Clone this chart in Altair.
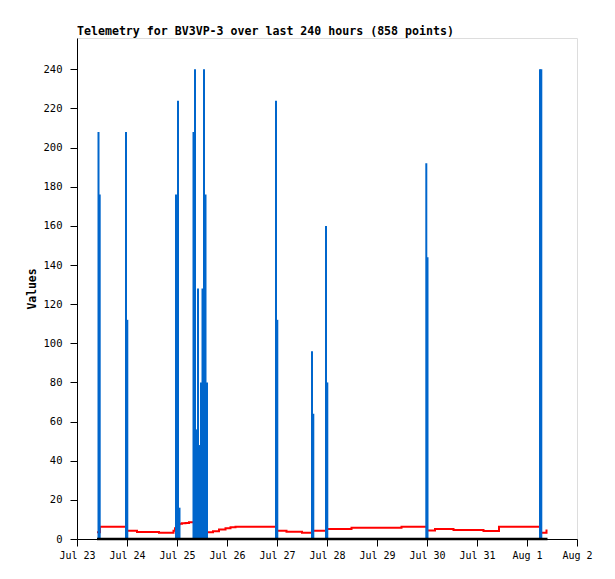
import altair as alt
import pandas as pd
from datetime import datetime, timedelta

# ---- data (times are day offsets from Jul 23 00:00) ----
blue_days = [0.43, 0.454, 0.98, 1.006, 1.98, 2.02, 2.05, 2.33, 2.36, 2.39, 2.42,
             2.45, 2.48, 2.51, 2.54, 2.57, 2.60, 3.98, 4.006, 4.70, 4.726, 4.98,
             5.006, 6.986, 7.01, 9.26, 9.286]
blue_vals = [208, 176, 208, 112, 176, 224, 16, 208, 240, 56, 128,
             48, 80, 128, 240, 176, 80, 224, 112, 96, 64, 160,
             80, 192, 144, 240, 240]

red_days = [0.40, 0.46, 1.00, 1.20, 1.64, 1.90, 1.93, 1.96, 1.98, 2.00, 2.05,
            2.10, 2.17, 2.24, 2.58, 2.72, 2.84, 2.97, 3.07, 3.17, 4.00, 4.19,
            4.50, 4.72, 4.99, 5.49, 6.49, 7.00, 7.16, 7.53, 8.13, 8.44, 9.28,
            9.39, 9.41]
red_vals = [3.4, 6.2, 4.2, 3.6, 3.2, 3.2, 4.2, 5.5, 6.5, 7.5, 7.8,
            8.0, 8.2, 8.5, 3.4, 3.9, 4.8, 5.5, 6.0, 6.3, 4.2, 3.7,
            3.2, 4.2, 5.1, 5.8, 6.3, 4.4, 5.1, 4.6, 4.1, 6.3, 3.2,
            4.4, 4.4]

black_days = [0.40, 9.41]
black_vals = [0, 0]

y_ticks = list(range(0, 241, 20))
title_text = "Telemetry for BV3VP-3 over last 240 hours (858 points)"

base = datetime(2023, 7, 23)


def ts(d):
    return (base + timedelta(days=d)).strftime("%Y-%m-%dT%H:%M:%S")


blue_df = pd.DataFrame({"t": [ts(d) for d in blue_days], "v": blue_vals})
red_df = pd.DataFrame({"t": [ts(d) for d in red_days], "v": red_vals})
black_df = pd.DataFrame({"t": [ts(d) for d in black_days], "v": black_vals})

x_ticks = [alt.DateTime(year=(base + timedelta(days=i)).year,
                        month=(base + timedelta(days=i)).month,
                        date=(base + timedelta(days=i)).day) for i in range(11)]

mono = "DejaVu Sans Mono"

x_enc = alt.X(
    "t:T",
    scale=alt.Scale(domain=[alt.DateTime(year=2023, month=7, date=23),
                            alt.DateTime(year=2023, month=8, date=2)]),
    axis=alt.Axis(values=x_ticks, format="%b %-d", title=None, grid=False,
                  labelFont=mono, labelFontSize=10, labelColor="black",
                  tickColor="black", domainColor="black", tickSize=7,
                  labelPadding=4, labelFlush=False, labelOverlap=False),
)
y_scale = alt.Scale(domain=[0, 256], nice=False)
y_axis = alt.Axis(values=y_ticks, title="Values", grid=False,
                  labelFont=mono, labelFontSize=10.5, labelColor="black",
                  tickColor="black", domainColor="black", tickSize=7,
                  labelPadding=8, titleFont=mono, titleFontSize=11.4,
                  titleFontWeight="bold", titleColor="black", titlePadding=6)

red = alt.Chart(red_df).mark_line(color="#ff0000", strokeWidth=2,
                                  interpolate="step-after").encode(
    x=x_enc, y=alt.Y("v:Q", scale=y_scale, axis=y_axis))

blue = alt.Chart(blue_df).mark_rule(color="#0066cc", strokeWidth=2).encode(
    x=x_enc, y=alt.Y("v:Q", scale=y_scale, axis=y_axis), y2=alt.datum(0))

black = alt.Chart(black_df).mark_line(color="black", strokeWidth=2.5).encode(
    x=x_enc, y=alt.Y("v:Q", scale=y_scale, axis=y_axis))

chart = alt.layer(red, blue, black).properties(
    width=500, height=501,
    title=alt.TitleParams(title_text, anchor="start", frame="group",
                          font=mono, fontSize=11.6, fontWeight="bold",
                          color="black", offset=0),
    autosize=alt.AutoSizeParams(type="none"),
    padding={"left": 69, "top": 30, "right": 25, "bottom": 28},
).configure_view(stroke="#555555", strokeWidth=1).configure(background="white")

chart.save("out.html", embed_options={"renderer": "svg", "actions": False})
